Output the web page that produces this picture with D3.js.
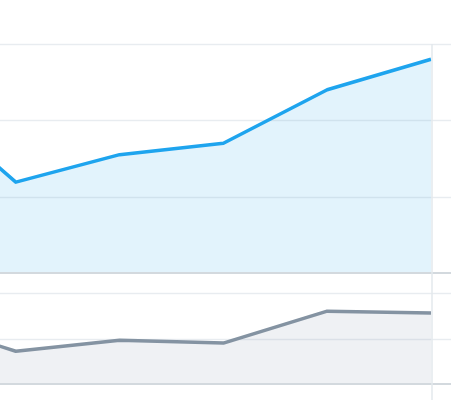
<!DOCTYPE html>
<html>
<head>
<meta charset="utf-8">
<script src="https://cdn.jsdelivr.net/npm/d3@7"></script>
<style>
  html, body { margin: 0; padding: 0; background: #fff; }
  svg { display: block; }
</style>
</head>
<body>
<div id="vis"></div>
<script>
// data (first point sits off the left edge)
var days = [0, 1, 2, 3, 4, 5];
var impressions = [238, 119, 155, 170, 240, 280];
var engagements = [72, 36, 48, 45, 80, 78];
var topTicks = [0, 100, 200, 300];
var bottomTicks = [0, 50, 100];

var width = 451, height = 400;

var svg = d3.select("#vis").append("svg")
  .attr("width", width)
  .attr("height", height);

var x = d3.scaleLinear()
  .domain([0, 5])
  .range([-88, 431]);

var yTop = d3.scaleLinear().domain([0, 300]).range([273, 44]);
var yBot = d3.scaleLinear().domain([0, 100]).range([384, 293]);

function panel(y, values, ticks, lineColor, fillColor) {
  var g = svg.append("g");

  var area = d3.area()
    .x(function(d, i) { return x(days[i]); })
    .y0(y(0))
    .y1(function(d) { return y(d); });

  g.append("path")
    .datum(values)
    .attr("d", area)
    .style("fill", fillColor);

  // gridlines across the whole width, drawn over the fill
  g.selectAll(".grid")
    .data(ticks.filter(function(t) { return t !== 0; }))
    .enter().append("line")
    .attr("x1", 0).attr("x2", width)
    .attr("y1", function(d) { return Math.round(y(d)) + 0.5; })
    .attr("y2", function(d) { return Math.round(y(d)) + 0.5; })
    .style("stroke", "rgba(140,160,180,0.2)")
    .style("stroke-width", 1.5);

  // baseline
  g.append("line")
    .attr("x1", 0).attr("x2", width)
    .attr("y1", y(0)).attr("y2", y(0))
    .style("stroke", "#d3d9de")
    .style("stroke-width", 2);

  var line = d3.line()
    .x(function(d, i) { return x(days[i]); })
    .y(function(d) { return y(d); });

  g.append("path")
    .datum(values)
    .attr("d", line)
    .style("fill", "none")
    .style("stroke", lineColor)
    .style("stroke-width", 3.5)
    .style("stroke-linejoin", "round");
}

panel(yTop, impressions, topTicks, "#1ea4ee", "#e2f3fc");
panel(yBot, engagements, bottomTicks, "#8493a2", "#eff1f4");

// vertical marker at the last day
svg.append("line")
  .attr("x1", x(5) + 1).attr("x2", x(5) + 1)
  .attr("y1", yTop(300)).attr("y2", height)
  .style("stroke", "#e3e8ec")
  .style("stroke-width", 1.5);
</script>
</body>
</html>
